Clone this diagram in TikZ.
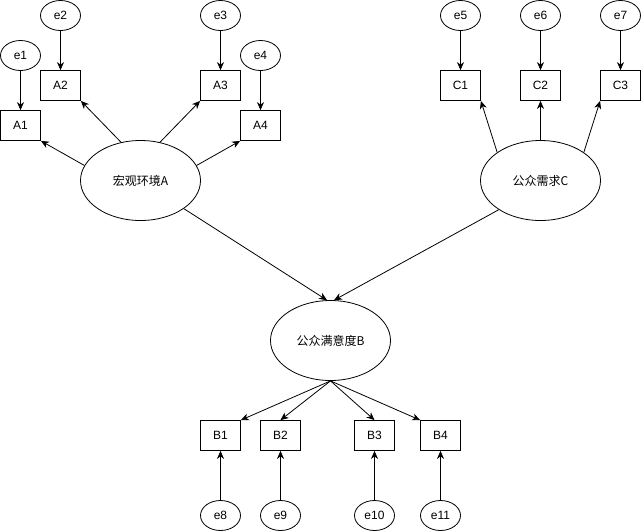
\documentclass[tikz,border=0pt]{standalone}
\usepackage{fontspec}
\setmainfont{Liberation Sans}
\newfontfamily\cjk{Noto Sans CJK SC}
\usetikzlibrary{shapes.geometric,arrows.meta}

\begin{document}
\begin{tikzpicture}[
  x=1pt,y=-1pt,
  line width=0.8pt,
  font=\fontsize{12}{14}\selectfont,
  >={Stealth[length=8pt,width=7pt,inset=2.5pt]},
  obs/.style={draw,rectangle,minimum width=40pt,minimum height=30pt,inner sep=0pt},
  err/.style={draw,ellipse,minimum width=40pt,minimum height=30pt,inner sep=0pt},
  latent/.style={draw,ellipse,minimum width=120pt,minimum height=80pt,inner sep=0pt,font=\cjk\fontsize{12}{14}\selectfont}
]
  \useasboundingbox (-0.5,-0.5) rectangle (640.5,530.5);
  % latent variables
  \node[latent] (A) at (140,180) {宏观环境A};
  \node[latent] (C) at (540,180) {公众需求C};
  \node[latent] (B) at (330,340) {公众满意度B};
  % observed
  \node[obs] (A1) at (20,125) {A1};
  \node[obs] (A2) at (60,85) {A2};
  \node[obs] (A3) at (220,85) {A3};
  \node[obs] (A4) at (260,125) {A4};
  \node[obs] (C1) at (460,85) {C1};
  \node[obs] (C2) at (540,85) {C2};
  \node[obs] (C3) at (620,85) {C3};
  \node[obs] (B1) at (220,435) {B1};
  \node[obs] (B2) at (280,435) {B2};
  \node[obs] (B3) at (374,435) {B3};
  \node[obs] (B4) at (440,435) {B4};
  % errors
  \node[err] (e1) at (20,55) {e1};
  \node[err] (e2) at (60,15) {e2};
  \node[err] (e3) at (220,15) {e3};
  \node[err] (e4) at (260,55) {e4};
  \node[err] (e5) at (460,15) {e5};
  \node[err] (e6) at (540,15) {e6};
  \node[err] (e7) at (620,15) {e7};
  \node[err] (e8) at (220,515) {e8};
  \node[err] (e9) at (280,515) {e9};
  \node[err] (e10) at (374,515) {e10};
  \node[err] (e11) at (440,515) {e11};
  % loadings
  \draw[->] (A.165) -- (A1.south east);
  \draw[->] (A.117) -- (A2.south east);
  \draw[->] (A.63) -- (A3.south west);
  \draw[->] (A.15) -- (A4.south west);
  \draw[->] (C.147) -- (C1.south east);
  \draw[->] (C.north) -- (C2.south);
  \draw[->] (C.33) -- (C3.south west);
  \draw[->] (B.south) -- (B1.north east);
  \draw[->] (B.south) -- (B2.north);
  \draw[->] (B.south) -- (B3.north);
  \draw[->] (B.south) -- (B4.north west);
  % paths
  \draw[->] (A.-33) -- (B.95);
  \draw[->] (C.215) -- (B.85);
  % error terms
  \draw[->] (e1) -- (A1);
  \draw[->] (e2) -- (A2);
  \draw[->] (e3) -- (A3);
  \draw[->] (e4) -- (A4);
  \draw[->] (e5) -- (C1);
  \draw[->] (e6) -- (C2);
  \draw[->] (e7) -- (C3);
  \draw[->] (e8) -- (B1);
  \draw[->] (e9) -- (B2);
  \draw[->] (e10) -- (B3);
  \draw[->] (e11) -- (B4);
\end{tikzpicture}
\end{document}
